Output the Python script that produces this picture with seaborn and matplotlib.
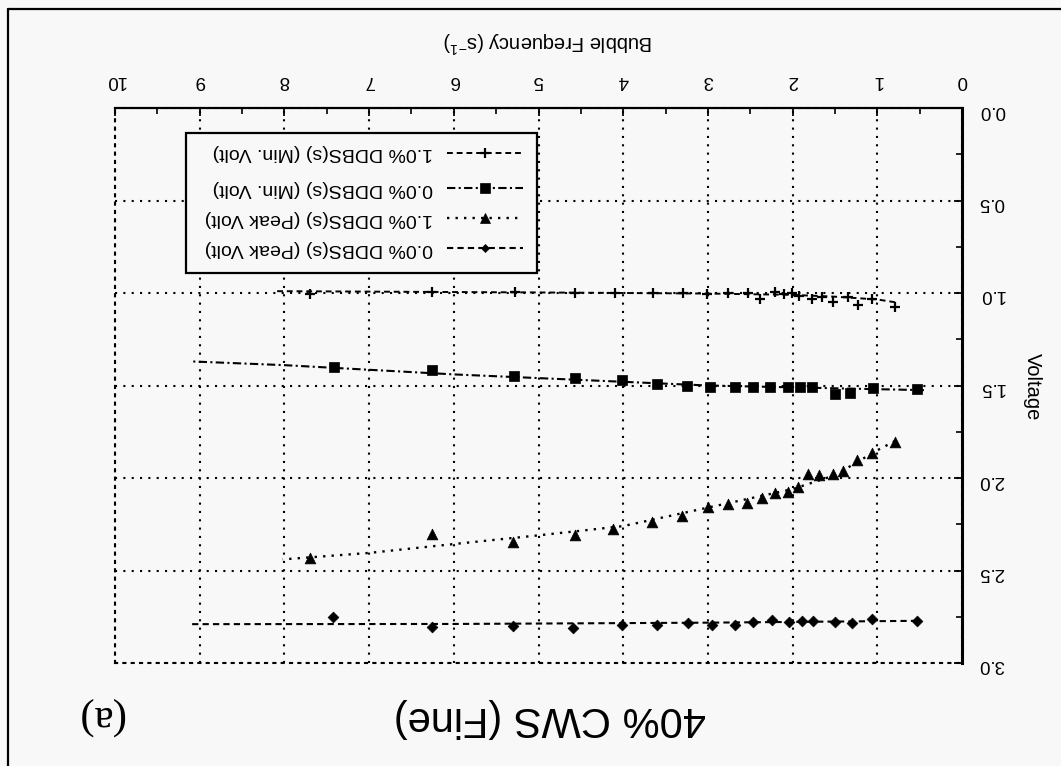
import matplotlib
matplotlib.use("Agg")
import matplotlib.pyplot as plt
from matplotlib.lines import Line2D
from matplotlib.patches import Rectangle
from matplotlib.ticker import MultipleLocator, FormatStrFormatter
import seaborn as sns

# ---- measured points: bubble frequency (1/s) and voltage ----
peak00_freq = [0.53, 1.06, 1.30, 1.50, 1.76, 1.89, 2.04, 2.24, 2.47, 2.68, 2.95,
               3.23, 3.60, 4.01, 4.59, 5.30, 6.26, 7.43]
peak00_volt = [2.775, 2.76, 2.785, 2.78, 2.775, 2.775, 2.78, 2.77, 2.78, 2.795, 2.795,
               2.785, 2.795, 2.795, 2.81, 2.80, 2.805, 2.75]

peak10_freq = [0.79, 1.06, 1.24, 1.40, 1.52, 1.69, 1.82, 1.94, 2.05, 2.21, 2.36,
               2.54, 2.76, 3.00, 3.31, 3.66, 4.12, 4.57, 5.30, 6.26, 7.70]
peak10_volt = [1.805, 1.865, 1.90, 1.96, 1.98, 1.985, 1.98, 2.05, 2.075, 2.08, 2.11,
               2.135, 2.14, 2.155, 2.205, 2.24, 2.275, 2.31, 2.345, 2.30, 2.43]

min00_freq = [0.53, 1.05, 1.32, 1.50, 1.77, 1.91, 2.05, 2.27, 2.47, 2.68, 2.98,
              3.25, 3.60, 4.01, 4.57, 5.29, 6.26, 7.41]
min00_volt = [1.52, 1.515, 1.54, 1.545, 1.51, 1.51, 1.51, 1.51, 1.51, 1.51, 1.51,
              1.50, 1.49, 1.47, 1.46, 1.45, 1.415, 1.40]

min10_freq = [0.79, 1.06, 1.23, 1.35, 1.52, 1.65, 1.77, 1.92, 2.01, 2.10, 2.21,
              2.38, 2.53, 2.76, 3.01, 3.29, 3.65, 4.10, 4.57, 5.28, 6.26, 7.70]
min10_volt = [1.075, 1.03, 1.065, 1.02, 1.05, 1.02, 1.03, 1.015, 1.0, 1.005, 0.995,
              1.03, 1.0, 1.0, 1.005, 1.0, 1.0, 1.0, 1.0, 0.995, 0.995, 1.005]

# ---- trend curves drawn through each series ----
peak00_fit_freq = [0.53, 3.0, 6.0, 9.09]
peak00_fit_volt = [2.772, 2.782, 2.789, 2.79]

peak10_fit_freq = [0.79, 1.0, 1.5, 2.0, 3.0, 4.0, 5.0, 6.0, 7.0, 8.02]
peak10_fit_volt = [1.80, 1.85, 1.985, 2.06, 2.16, 2.26, 2.31, 2.357, 2.405, 2.44]

min00_fit_freq = [0.45, 1.0, 2.0, 3.0, 4.0, 5.0, 6.0, 7.0, 8.0, 9.09]
min00_fit_volt = [1.525, 1.52, 1.51, 1.50, 1.48, 1.46, 1.44, 1.415, 1.39, 1.37]

min10_fit_freq = [0.79, 1.0, 1.5, 2.0, 3.0, 5.0, 8.13]
min10_fit_volt = [1.05, 1.035, 1.02, 1.01, 1.003, 0.997, 0.99]

series_labels = ["0.0% DDBS(s) (Peak Volt)", "1.0% DDBS(s) (Peak Volt)",
                 "0.0% DDBS(s) (Min. Volt)", "1.0% DDBS(s) (Min. Volt)"]

x_ticks = [0, 1, 2, 3, 4, 5, 6, 7, 8, 9, 10]
y_ticks = [0.0, 0.5, 1.0, 1.5, 2.0, 2.5, 3.0]

title_text = "40% CWS (Fine)"
panel_text = "(a)"
x_label = "Bubble Frequency (s$^{-1}$)"
y_label = "Voltage"

# ---- style ----
BG = "#f8f8f8"
sns.set_theme(style="white")
plt.rcParams["font.family"] = ["Liberation Sans", "DejaVu Sans"]
plt.rcParams["mathtext.default"] = "regular"
plt.rcParams["lines.scale_dashes"] = True

W, H = 1061, 766
fig = plt.figure(figsize=(W / 100, H / 100), dpi=100, facecolor=BG)


def fx(px):
    return px / W


def fy(py):
    return 1 - py / H


ax = fig.add_axes([fx(115), fy(663), (962 - 115) / W, (663 - 108) / H])
ax.set_facecolor(BG)

styles = [
    dict(marker="D", s=30, ls=(0, (3, 2)), lw=1.5),
    dict(marker="^", s=60, ls=(0, (1, 2.6)), lw=1.7),
    dict(marker="s", s=48, ls=(0, (4, 1.6, 1, 1.6)), lw=1.5),
    dict(marker="+", s=60, ls=(0, (3, 2)), lw=1.4),
]

points = [(peak00_freq, peak00_volt), (peak10_freq, peak10_volt),
          (min00_freq, min00_volt), (min10_freq, min10_volt)]
fits = [(peak00_fit_freq, peak00_fit_volt), (peak10_fit_freq, peak10_fit_volt),
        (min00_fit_freq, min00_fit_volt), (min10_fit_freq, min10_fit_volt)]

for (px_, py_), (fx_, fy_), st in zip(points, fits, styles):
    sns.lineplot(x=fx_, y=fy_, ax=ax, color="black", linestyle=st["ls"],
                 linewidth=st["lw"], sort=False, estimator=None, legend=False,
                 zorder=2)
    if st["marker"] == "+":
        sns.scatterplot(x=px_, y=py_, ax=ax, marker="+", s=st["s"], color="black",
                        linewidth=1.6, legend=False, zorder=3)
    else:
        sns.scatterplot(x=px_, y=py_, ax=ax, marker=st["marker"], s=st["s"],
                        color="black", edgecolor="black", linewidth=0.5,
                        legend=False, zorder=3)

# axes: frequency runs right-to-left along the top, voltage downward on the right
ax.set_xlim(10, 0)
ax.set_ylim(3.0, 0.0)
ax.set_xticks(x_ticks)
ax.set_yticks(y_ticks)
ax.xaxis.set_minor_locator(MultipleLocator(0.5))
ax.yaxis.set_minor_locator(MultipleLocator(0.25))
ax.yaxis.set_major_formatter(FormatStrFormatter("%.1f"))
ax.xaxis.tick_top()
ax.yaxis.tick_right()
ax.xaxis.set_label_position("top")
ax.yaxis.set_label_position("right")

ax.tick_params(which="both", direction="in", color="black",
               top=True, bottom=False, left=False, right=True,
               labeltop=True, labelbottom=False, labelleft=False, labelright=True,
               labelsize=13.4, labelcolor="black", labelrotation=180)
ax.tick_params(which="major", length=6, width=1.3)
ax.tick_params(which="minor", length=4, width=1.2)
ax.tick_params(axis="x", which="major", pad=14)
ax.tick_params(axis="y", which="major", pad=12)

ax.grid(True, which="major", color="black", linestyle=(0, (1, 3)), linewidth=1.5)
for side in ("left", "bottom"):
    ax.spines[side].set_linestyle((0, (1, 3)))
    ax.spines[side].set_linewidth(1.5)
    ax.spines[side].set_color("black")
ax.spines["top"].set_linewidth(1.6)
ax.spines["right"].set_linewidth(2.2)
ax.spines["top"].set_color("black")
ax.spines["right"].set_color("black")

ax.set_xlabel(x_label, fontsize=14.5, rotation=180, color="black")
ax.xaxis.set_label_coords((548 - 115) / 847, (663 - 42) / 555)
ax.xaxis.label.set_va("center")
ax.xaxis.label.set_ha("center")
ax.set_ylabel(y_label, fontsize=14.5, rotation=270, color="black")
ax.yaxis.set_label_coords((1032 - 115) / 847, (663 - 387) / 555)
ax.yaxis.label.set_va("center")
ax.yaxis.label.set_ha("center")

# ---- legend box ----
box = Rectangle((fx(186), fy(273)), (537 - 186) / W, (273 - 133) / H,
                transform=fig.transFigure, facecolor=BG, edgecolor="black",
                linewidth=1.6, zorder=5)
fig.add_artist(box)
row_y = [248, 218, 188, 153]
for label, st, ry in zip(series_labels, styles, row_y):
    handle = Line2D([fx(447), fx(485), fx(523)], [fy(ry)] * 3,
                    transform=fig.transFigure, color="black",
                    linestyle=st["ls"], linewidth=st["lw"],
                    marker=st["marker"], markevery=[1],
                    markersize=(st["s"] ** 0.5) * (0.75 if st["marker"] == "D" else 1.0),
                    markeredgewidth=1.6 if st["marker"] == "+" else 0.5,
                    markerfacecolor="black", markeredgecolor="black", zorder=6)
    fig.add_artist(handle)
    fig.text(fx(433), fy(ry), label, rotation=180, ha="right", va="center",
             fontsize=14, color="black", zorder=6)

# ---- title and panel tag ----
fig.text(fx(550), fy(718), title_text, rotation=180, ha="center", va="center",
         fontsize=30, color="black")
fig.text(fx(100), fy(716), panel_text, rotation=180, ha="center", va="center",
         fontsize=31, color="black", family=["Liberation Serif", "DejaVu Serif"])

# ---- page frame ----
fig.add_artist(Line2D([fx(8), 1.0], [fy(9), fy(9)], transform=fig.transFigure,
                      color="black", linewidth=1.6))
fig.add_artist(Line2D([fx(8), fx(8)], [fy(9), 0.0], transform=fig.transFigure,
                      color="black", linewidth=1.6))

fig.savefig("out.png", dpi=100, facecolor=BG)
